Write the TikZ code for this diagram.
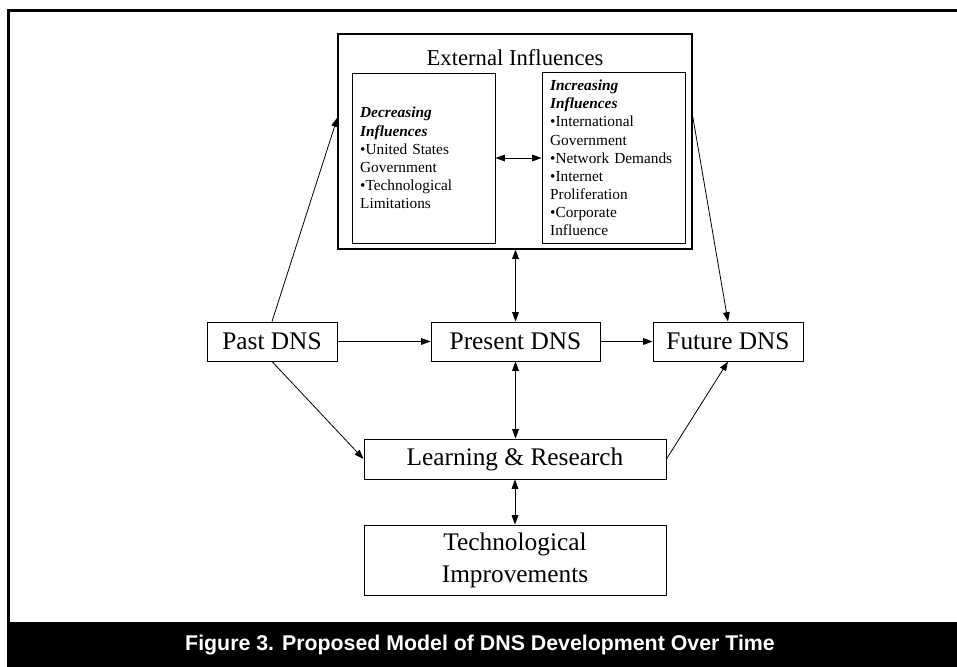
\documentclass[tikz,border=0pt]{standalone}
\usepackage{fontspec}
\setmainfont{Liberation Serif}
\newfontfamily\capfont{Liberation Sans}
\usetikzlibrary{calc,arrows.meta}
\tikzset{
	box/.style={draw, line width=0.7pt, inner sep=0pt},
	bigtxt/.style={font=\fontsize{19}{24}\selectfont, align=center},
	smalltxt/.style={font=\fontsize{11.5}{13.6}\selectfont, align=left, text width=95pt, inner sep=6pt},
	tip/.tip={Triangle[length=7pt,width=5pt]},
	arr/.style={-tip, line width=0.6pt},
	darr/.style={tip-tip, line width=0.6pt}
}

\begin{document}
\begin{tikzpicture}[x=0.75pt, y=-0.75pt]
			%%%%% START %%%%%
			\useasboundingbox (0, 0) rectangle (957, 667);
			
			\draw[line width=2.25pt] (8, 622) -- (8, 10.5) -- (957, 10.5);
			\fill[black] (6.5, 622) rectangle (957, 667);
			\node[text=white, font=\capfont\bfseries\fontsize{16}{19}\selectfont] (caption) at (480, 645) {Figure 3. Proposed Model of DNS Development Over Time};
			
			% external influences
			\node[box, line width=0.85pt, minimum width=265.5pt, minimum height=161.25pt] (ext) at (515, 141.5) {};
			\node[font=\fontsize{17}{20}\selectfont] (exttitle) at (515, 58) {External Influences};
			\node[box, smalltxt, minimum width=107.25pt, minimum height=127.5pt] (decr) at (423.5, 158)
				{\textbf{\textit{Decreasing\\Influences}}\\•United States\\Government\\•Technological\\Limitations};
			\node[box, smalltxt, minimum width=107.25pt, minimum height=127.5pt] (incr) at (613.5, 158)
				{\textbf{\textit{Increasing\\Influences}}\\•International\\Government\\•Network Demands\\•Internet\\Proliferation\\•Corporate\\Influence};
			\draw[darr] (decr.east) -- (incr.west);
			
			% dns row
			\node[box, bigtxt, minimum width=97.5pt, minimum height=29.25pt] (past) at (272, 341.5) {Past DNS};
			\node[box, bigtxt, minimum width=126.75pt, minimum height=29.25pt] (present) at (515.5, 341.5) {Present DNS};
			\node[box, bigtxt, minimum width=112.5pt, minimum height=29.25pt] (future) at (728, 341.5) {Future DNS};
			
			\node[box, bigtxt, minimum width=226.5pt, minimum height=30pt] (learn) at (515, 459) {Learning \& Research};
			\node[box, bigtxt, minimum width=226.5pt, minimum height=52.5pt] (tech) at (515, 560) {Technological\\Improvements};
			
			\draw[arr] (past.east) -- (present.west);
			\draw[arr] (present.east) -- (future.west);
			\draw[arr] (past.north) -- ($(ext.west)+(0, -24)$);
			\draw[arr] (past.south) -- (learn.west);
			\draw[arr] ($(ext.east)+(0, -26)$) -- (future.north);
			\draw[arr] (learn.east) -- (future.south);
			
			\draw[darr] (ext.south -| present.north) -- (present.north);
			\draw[darr] (present.south) -- (present.south |- learn.north);
			\draw[darr] (learn.south) -- (tech.north);
			
			%%%%% END %%%%%
\end{tikzpicture}
\end{document}
